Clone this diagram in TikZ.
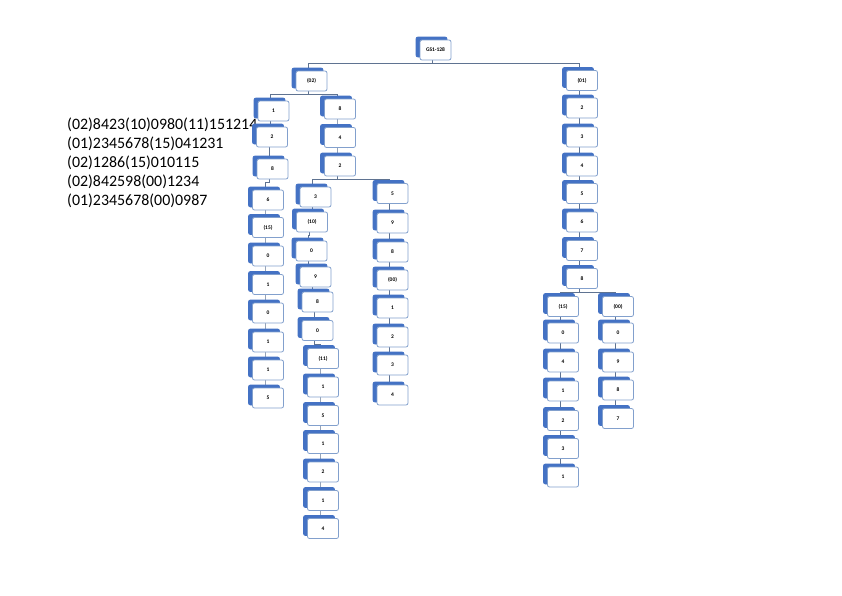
\documentclass[tikz,border=0pt]{standalone}
\usepackage{fontspec}
\setmainfont{Carlito}
\usetikzlibrary{shadows,backgrounds}

\definecolor{cardblue}{RGB}{68,114,196}
\definecolor{cardedge}{RGB}{130,160,205}
\definecolor{linkgray}{RGB}{95,115,145}

\tikzset{
  card/.style={draw=cardedge, line width=.8pt, fill=white, rounded corners=2pt,
    minimum width=31pt, minimum height=20pt, inner sep=0pt,
    font=\fontsize{5.5}{6}\selectfont\bfseries,
    copy shadow={shadow xshift=-4pt, shadow yshift=3pt, fill=cardblue, draw=cardblue}},
  link/.style={draw=linkgray, line width=.6pt},
  gsline/.style={anchor=base west, inner sep=0pt, font=\fontsize{15.9}{19}\selectfont}
}
\newcommand\link[2]{\draw[link] ([xshift=-3pt]#1.south) -- ++(0,3) -| ([xshift=-3pt]#2.north);}

\begin{document}
\begin{tikzpicture}[x=1pt,y=-1pt]
      \useasboundingbox (0,0) rectangle (842,595);

      % the five strings
      \node[gsline] (s1) at (67,129) {(02)8423(10)0980(11)151214};
      \node[gsline] (s2) at (67,148.2) {(01)2345678(15)041231};
      \node[gsline] (s3) at (67,167.4) {(02)1286(15)010115};
      \node[gsline] (s4) at (67,186.6) {(02)842598(00)1234};
      \node[gsline] (s5) at (67,205.8) {(01)2345678(00)0987};

      \node[card] (root) at (435.5,50) {GS1-128};
      \node[card] (a02) at (311.5,81) {(02)};
      \node[card] (a01) at (582,80.5) {(01)};

      \node[card] (b1) at (273.5,111) {1};
      \node[card] (b8) at (340,109) {8};

      % (02)1286(15)010115
      \node[card] (c2) at (272,137) {2};
      \node[card] (c8) at (272.5,169) {8};
      \node[card] (c6) at (268,200) {6};
      \node[card] (c15) at (268,227.5) {(15)};
      \node[card] (c0) at (268,256) {0};
      \node[card] (c1) at (268,284.5) {1};
      \node[card] (c0b) at (268,313) {0};
      \node[card] (c1b) at (268,342) {1};
      \node[card] (c1c) at (268,370) {1};
      \node[card] (c5) at (268,398) {5};

      \node[card] (d4) at (340,137.5) {4};
      \node[card] (d2) at (340,166) {2};

      % (02)8423(10)0980(11)151214
      \node[card] (e3) at (315.5,197) {3};
      \node[card] (e10) at (312,222) {(10)};
      \node[card] (e0) at (311.5,251) {0};
      \node[card] (e9) at (315.5,277) {9};
      \node[card] (e8) at (317.5,302) {8};
      \node[card] (e0b) at (317.5,330.5) {0};
      \node[card] (e11) at (323,358.5) {(11)};
      \node[card] (e1) at (323,387) {1};
      \node[card] (e5) at (323,415.5) {5};
      \node[card] (e1b) at (323,443.5) {1};
      \node[card] (e2) at (323,472) {2};
      \node[card] (e1c) at (323,500.5) {1};
      \node[card] (e4) at (323,528.5) {4};

      % (02)842598(00)1234
      \node[card] (f5) at (392.5,193.5) {5};
      \node[card] (f9) at (392.5,223) {9};
      \node[card] (f8) at (392.5,252) {8};
      \node[card] (f00) at (392.5,280) {(00)};
      \node[card] (f1) at (392.5,308) {1};
      \node[card] (f2) at (392.5,337) {2};
      \node[card] (f3) at (392.5,365) {3};
      \node[card] (f4) at (392.5,395) {4};

      % (01)2345678
      \node[card] (g2) at (582,108) {2};
      \node[card] (g3) at (582,137) {3};
      \node[card] (g4) at (582,166) {4};
      \node[card] (g5) at (582,193.5) {5};
      \node[card] (g6) at (582,222) {6};
      \node[card] (g7) at (582,250.5) {7};
      \node[card] (g8) at (582,278.5) {8};

      % (15)041231
      \node[card] (h15) at (563,306.5) {(15)};
      \node[card] (h0) at (563,333) {0};
      \node[card] (h4) at (563,362) {4};
      \node[card] (h1) at (563,391) {1};
      \node[card] (h2) at (563,420.5) {2};
      \node[card] (h3) at (563,448.5) {3};
      \node[card] (h1b) at (563,477) {1};

      % (00)0987
      \node[card] (k00) at (618,306.5) {(00)};
      \node[card] (k0) at (618,333) {0};
      \node[card] (k9) at (618,362) {9};
      \node[card] (k8) at (618,390) {8};
      \node[card] (k7) at (618,418.5) {7};

      \begin{scope}[on background layer]
        \link{root}{a02} \link{root}{a01}
        \link{a02}{b1} \link{a02}{b8}
        \link{b1}{c2} \link{c2}{c8} \link{c8}{c6} \link{c6}{c15} \link{c15}{c0}
        \link{c0}{c1} \link{c1}{c0b} \link{c0b}{c1b} \link{c1b}{c1c} \link{c1c}{c5}
        \link{b8}{d4} \link{d4}{d2} \link{d2}{e3} \link{d2}{f5}
        \link{e3}{e10} \link{e10}{e0} \link{e0}{e9} \link{e9}{e8} \link{e8}{e0b}
        \link{e0b}{e11} \link{e11}{e1} \link{e1}{e5} \link{e5}{e1b} \link{e1b}{e2}
        \link{e2}{e1c} \link{e1c}{e4}
        \link{f5}{f9} \link{f9}{f8} \link{f8}{f00} \link{f00}{f1} \link{f1}{f2}
        \link{f2}{f3} \link{f3}{f4}
        \link{a01}{g2} \link{g2}{g3} \link{g3}{g4} \link{g4}{g5} \link{g5}{g6}
        \link{g6}{g7} \link{g7}{g8} \link{g8}{h15} \link{g8}{k00}
        \link{h15}{h0} \link{h0}{h4} \link{h4}{h1} \link{h1}{h2} \link{h2}{h3}
        \link{h3}{h1b}
        \link{k00}{k0} \link{k0}{k9} \link{k9}{k8} \link{k8}{k7}
      \end{scope}
\end{tikzpicture}
\end{document}
